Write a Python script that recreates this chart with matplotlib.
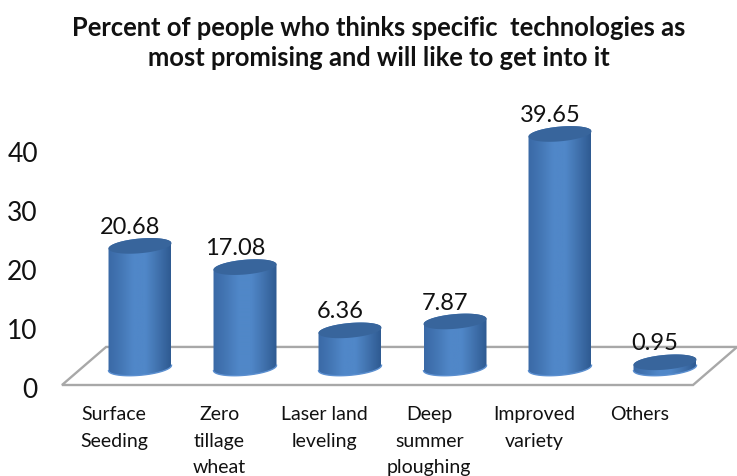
import numpy as np
import matplotlib
matplotlib.use("Agg")
import matplotlib.pyplot as plt
from matplotlib.colors import LinearSegmentedColormap
from matplotlib.patches import Polygon
from matplotlib.transforms import ScaledTranslation

categories = ["Surface\nSeeding", "Zero\ntillage\nwheat", "Laser land\nleveling",
              "Deep\nsummer\nploughing", "Improved\nvariety", "Others"]
values = [20.68, 17.08, 6.36, 7.87, 39.65, 0.95]
value_labels = ["20.68", "17.08", "6.36", "7.87", "39.65", "0.95"]
y_ticks = [0, 10, 20, 30, 40]

title = "Percent of people who thinks specific  technologies as\nmost promising and will like to get into it"

plt.rcParams["font.family"] = ["Lato", "DejaVu Sans"]

W, H = 737, 477
PX_X = 105.0      # pixels per category
PX_Y = 5.9        # pixels per y unit
LEFT, TOP, ZERO = 42, 80, 386

fig = plt.figure(figsize=(W / 100, H / 100), dpi=100)
ax = fig.add_axes([LEFT / W, (H - ZERO) / H, (W - LEFT) / W, (ZERO - TOP) / H])
ax.set_xlim((LEFT - 140) / PX_X, (W - 140) / PX_X)
ax.set_ylim(0, (ZERO - TOP) / PX_Y)
for s in ax.spines.values():
    s.set_visible(False)

# floor of the 3d box, depth is measured in category / value units
depth_y = 6.45
depth_x = 0.42
x0, x1 = -0.743, 5.267
floor = Polygon([(x0, 0), (x1, 0), (x1 + depth_x, depth_y), (x0 + depth_x, depth_y)],
                closed=True, fc="white", ec="#a8a8a8", lw=1.7, clip_on=False, zorder=1)
ax.add_patch(floor)

# cylinders
body_cmap = LinearSegmentedColormap.from_list(
    "body", ["#3a69a6", "#4477b5", "#5087c8", "#5087c8", "#4172ae", "#2f5b92"])
a = 0.3        # half width in categories
b = 1.25       # half height of ellipse in value units
tilt = 1.5     # rise of the ellipse per category
base = 2.9     # bars stand this far back from the front edge
t = np.linspace(0, 2 * np.pi, 120)

for i, v in enumerate(values):
    top = base + v
    ex = i + a * np.cos(t)
    shear = tilt * a * np.cos(t)
    # outline: bottom half of base ellipse then top half of top ellipse
    low = t[t >= np.pi]
    up = t[t <= np.pi]
    xs = np.r_[i + a * np.cos(low), i + a * np.cos(up)]
    ys = np.r_[base + b * np.sin(low) + tilt * a * np.cos(low),
               top + b * np.sin(up) + tilt * a * np.cos(up)]
    outline = Polygon(np.c_[xs, ys], closed=True, fc="none", ec="none", transform=ax.transData)
    ax.add_patch(outline)
    im = ax.imshow(np.linspace(0, 1, 64).reshape(1, -1), cmap=body_cmap, aspect="auto",
                   extent=[i - a, i + a, base - 3, top + 3], zorder=3)
    im.set_clip_path(outline)
    # rim light along the bottom edge
    ax.plot(i + a * np.cos(low), base + b * np.sin(low) + tilt * a * np.cos(low),
            color="#5b8fd0", lw=1.0, zorder=4)
    # top face
    ax.fill(ex, top + b * np.sin(t) + shear, color="#38659c", lw=0, zorder=5)
    ax.annotate(value_labels[i], (i, top), xytext=(-7.2, 14), textcoords="offset points",
                ha="center", va="center", fontsize=17, color="#111111", zorder=6)

ax.set_xlim((LEFT - 140) / PX_X, (W - 140) / PX_X)
ax.set_ylim(0, (ZERO - TOP) / PX_Y)

ax.set_yticks(y_ticks)
ax.set_yticklabels([str(y) for y in y_ticks], fontsize=19, color="#111111")
ax.set_xticks(np.arange(len(categories)) - 0.245)
ax.set_xticklabels(categories, fontsize=14, color="#111111", linespacing=1.68)
ax.tick_params(axis="both", length=0)
ax.tick_params(axis="y", pad=3)
ax.tick_params(axis="x", pad=14.5)

# digits sit a little low in the original
nudge = ScaledTranslation(0, -2 / 100, fig.dpi_scale_trans)
for lab in ax.get_yticklabels():
    lab.set_transform(lab.get_transform() + nudge)

fig.text(379 / W, 1 - 43 / H, title, ha="center", va="center", fontsize=18.4,
         fontweight="bold", color="#111111", linespacing=1.34)

fig.savefig("out.png", dpi=100)
